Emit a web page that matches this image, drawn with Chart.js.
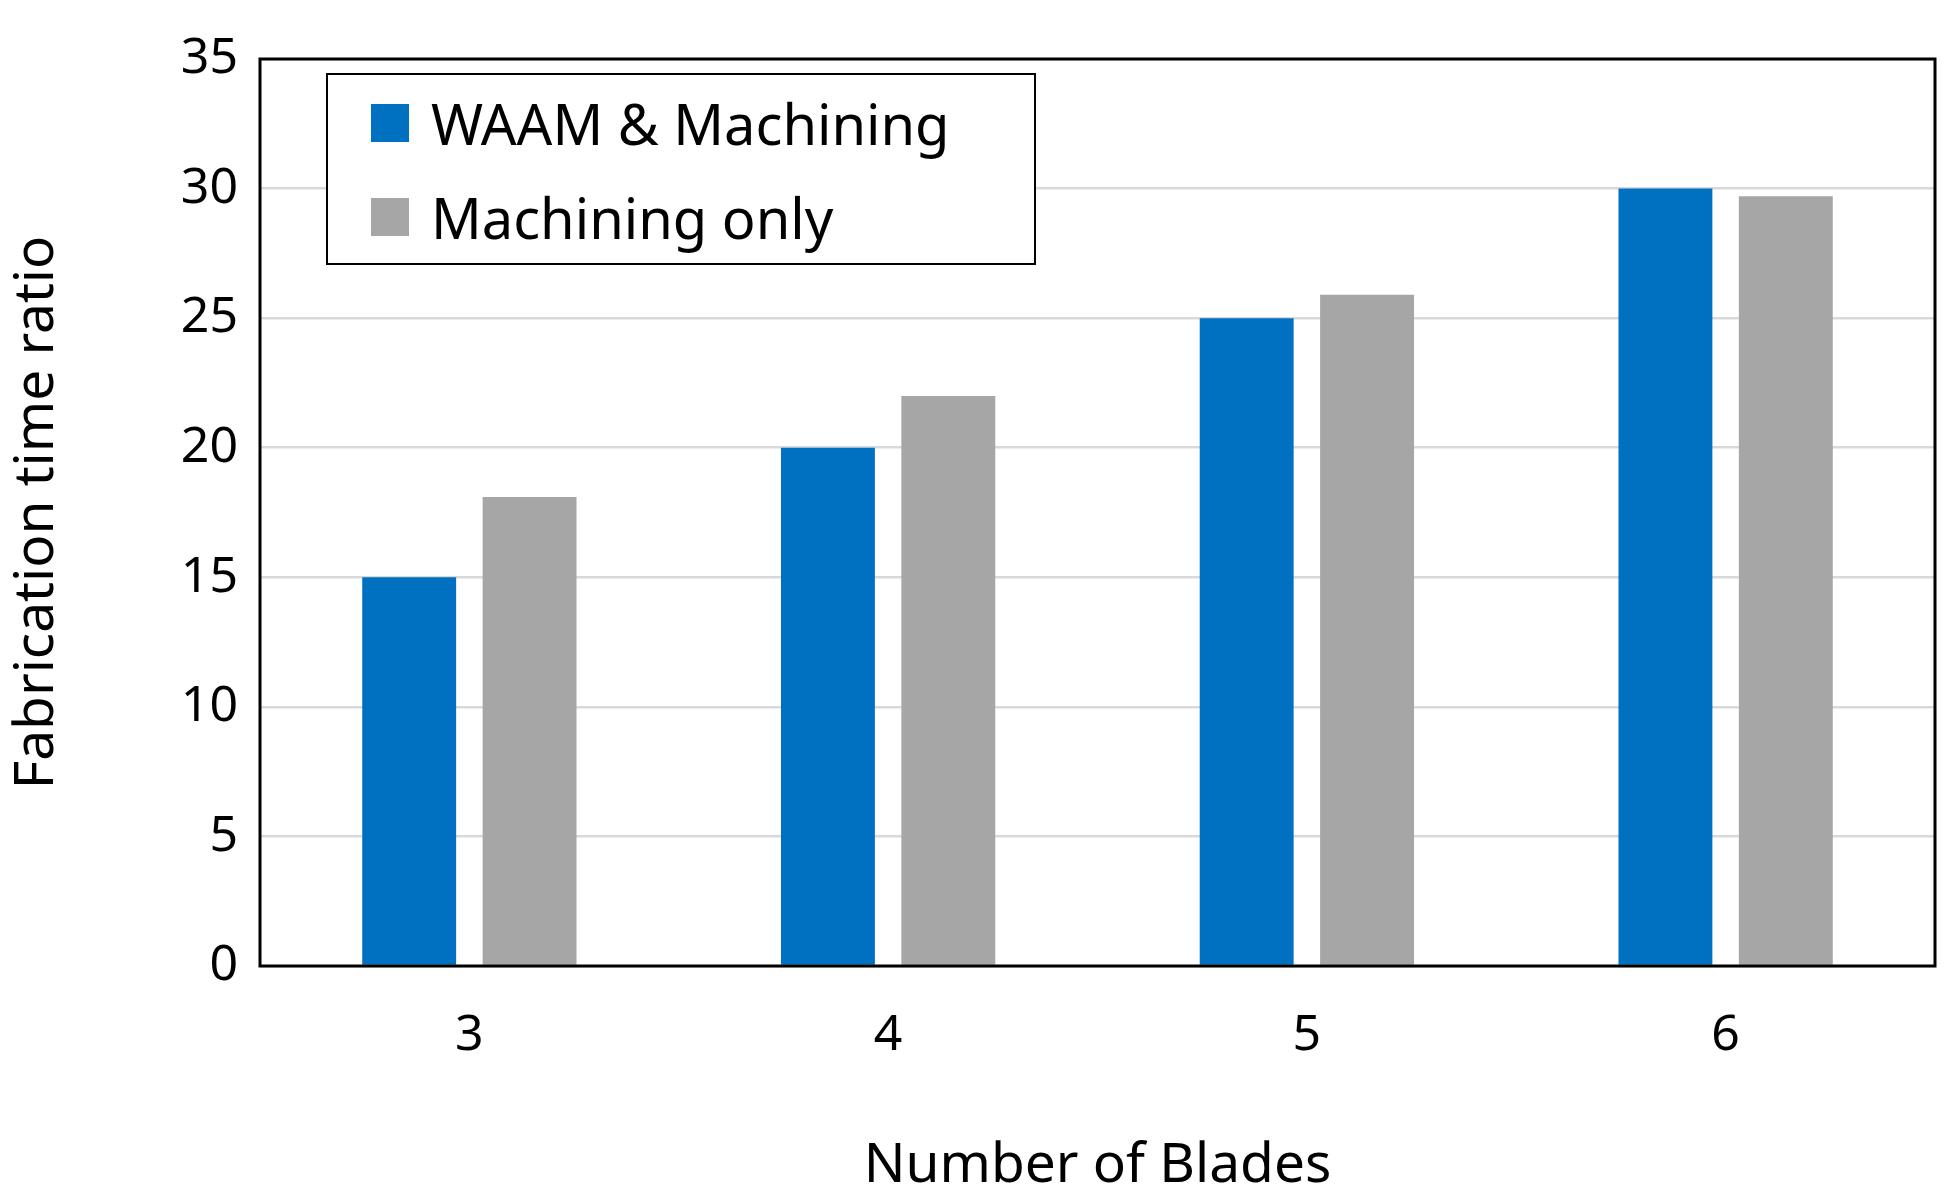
<!DOCTYPE html>
<html><head><meta charset="utf-8">
<script src="https://cdn.jsdelivr.net/npm/chart.js@4"></script>
<style>
html,body{margin:0;padding:0;background:#fff;}
#wrap{position:relative;width:1954px;height:1203px;}
#legend{position:absolute;left:326px;top:73px;width:710px;height:192px;border:2.5px solid #000;background:#fff;box-sizing:border-box;font-family:"Noto Sans",sans-serif;font-size:56px;color:#000;}
.item{position:absolute;left:43px;display:flex;align-items:center;}
.sw{width:38px;height:38px;margin-right:22px;}
</style></head>
<body><div id="wrap"><canvas id="c" width="1954" height="1203"></canvas>
<div id="legend">
<div class="item" style="top:10px"><div class="sw" style="background:#0070C0"></div>WAAM &amp; Machining</div>
<div class="item" style="top:104px"><div class="sw" style="background:#A6A6A6"></div>Machining only</div>
</div></div>
<script>
const categories=["3","4","5","6"];
const waam=[15,20,25,30];
const machOnly=[18.1,22,25.9,29.7];
const seriesNames=["WAAM & Machining","Machining only"];
const F='"Noto Sans", sans-serif';
const frame={id:'frame',afterDraw(ch){const a=ch.chartArea,c=ch.ctx;c.save();c.strokeStyle='#000';c.lineWidth=3;c.strokeRect(a.left,a.top,a.right-a.left,a.bottom-a.top);c.restore();}};
new Chart(document.getElementById('c'),{type:'bar',
data:{labels:categories,datasets:[
{label:seriesNames[0],data:waam,backgroundColor:'#0070C0',barPercentage:0.78,categoryPercentage:0.575},
{label:seriesNames[1],data:machOnly,backgroundColor:'#A6A6A6',barPercentage:0.78,categoryPercentage:0.575}]},
options:{responsive:false,animation:false,devicePixelRatio:1,
layout:{padding:{top:59,right:19,left:0,bottom:0}},
plugins:{legend:{display:false},tooltip:{enabled:false}},
scales:{
x:{grid:{display:false,drawTicks:false},border:{display:false},
ticks:{font:{family:F,size:50},color:'#000',padding:40},
title:{display:true,text:'Number of Blades',font:{family:F,size:55},color:'#000',padding:{top:20}},
afterFit(s){s.height=237;}},
y:{min:0,max:35,grid:{color:'#D9D9D9',lineWidth:2.5,drawTicks:false},border:{display:false},
ticks:{stepSize:5,font:{family:F,size:50},color:'#000',padding:22},
title:{display:true,text:'Fabrication time ratio',font:{family:F,size:55},color:'#000',padding:{bottom:10}},
afterFit(s){s.width=260;}}}},
plugins:[frame]});
</script></body></html>
